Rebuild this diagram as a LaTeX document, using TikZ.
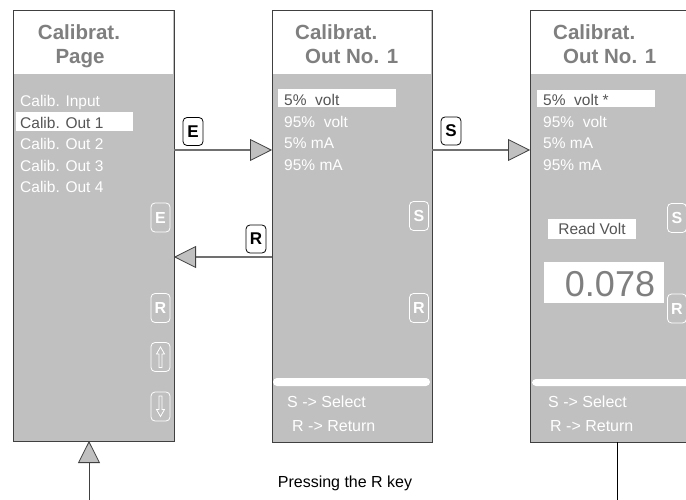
\documentclass[tikz,border=0pt]{standalone}
\usepackage{fontspec}
\setmainfont{Liberation Sans}
\usetikzlibrary{arrows.meta}
\definecolor{pgray}{HTML}{C0C0C0}
\definecolor{hgray}{HTML}{7F7F7F}
\definecolor{bord}{HTML}{404040}
\definecolor{lgray}{HTML}{707070}
\definecolor{dtext}{HTML}{555555}
\begin{document}
\begin{tikzpicture}[x=1pt,y=-1pt,
  panel/.style={draw=bord, line width=0.9pt, fill=pgray, inner sep=0pt, outer sep=0pt},
  htext/.style={inner sep=0pt, text=hgray, font=\fontsize{20.5}{24}\selectfont\bfseries},
  mtext/.style={inner sep=0pt, anchor=base west, text=white, font=\fontsize{15.5}{18}\selectfont},
  hlbox/.style={fill=white, inner sep=0pt},
  keybox/.style={draw=white, line width=0.8pt, rounded corners=4pt, minimum width=19pt, minimum height=29pt, inner sep=0pt, text=white, font=\fontsize{16}{18}\selectfont\bfseries},
  extkey/.style={draw=black, fill=white, line width=0.8pt, rounded corners=4pt, minimum width=20pt, minimum height=28pt, inner sep=0pt, text=black, font=\fontsize{17}{19}\selectfont\bfseries},
  conn/.style={draw=lgray, line width=1.2pt, -{Triangle[length=22pt,width=22pt,fill=pgray,color=bord,line width=0.8pt]}},
  arrowglyph/.style={draw=white, line width=0.8pt, line join=miter}
]
\useasboundingbox (0,0) rectangle (686,500);

% ---------- panels ----------
\node[panel, minimum width=161pt, minimum height=431pt] (p1) at (93.5,225.5) {};
\node[panel, minimum width=160pt, minimum height=432pt] (p2) at (352,226) {};
\node[panel, minimum width=160pt, minimum height=432pt] (p3) at (610,226) {};

\foreach \p in {p1,p2,p3}{
  \fill[white] ([xshift=0.6pt,yshift=-0.6pt]\p.north west) rectangle ([xshift=-0.6pt,yshift=-64pt]\p.north east);
}

% ---------- headers ----------
\node[htext, anchor=base] (h1a) at (79,40) {Calibrat.};
\node[htext, anchor=base] (h1b) at (80,64) {Page};
\node[htext, anchor=base west] (h2a) at (295,40) {Calibrat.};
\node[htext, anchor=base west] (h2b) at (305,64) {Out No. 1};
\node[htext, anchor=base west] (h3a) at (553,40) {Calibrat.};
\node[htext, anchor=base west] (h3b) at (563,64) {Out No. 1};

% ---------- panel 1 menu ----------
\fill[white] (16,112) rectangle (133,131);
\node[mtext] (m1) at (20,107) {Calib. Input};
\node[mtext, text=dtext] (m2) at (20,128.5) {Calib. Out 1};
\node[mtext] (m3) at (20,150) {Calib. Out 2};
\node[mtext] (m4) at (20,171.5) {Calib. Out 3};
\node[mtext] (m5) at (20,193) {Calib. Out 4};

\node[keybox] (k1e) at (160.5,217.5) {E};
\node[keybox] (k1r) at (160.5,308) {R};
\node[keybox] (k1u) at (160.5,357) {};
\node[keybox] (k1d) at (160.5,406.5) {};
\draw[arrowglyph] (160.5,347) -- (164.5,354) -- (162,354) -- (162,367.5) -- (159,367.5) -- (159,354) -- (156.5,354) -- cycle;
\draw[arrowglyph] (160.5,416.5) -- (164.5,409.5) -- (162,409.5) -- (162,396) -- (159,396) -- (159,409.5) -- (156.5,409.5) -- cycle;

% ---------- panel 2 menu ----------
\fill[white] (278,89) rectangle (396,107);
\node[mtext, text=dtext] (n1) at (284,106) {5\%\ \ volt};
\node[mtext] (n2) at (284,127.5) {95\%\ \ volt};
\node[mtext] (n3) at (284,149) {5\% mA};
\node[mtext] (n4) at (284,170.5) {95\% mA};

\node[keybox] (k2s) at (419,216) {S};
\node[keybox] (k2r) at (419,308) {R};

\fill[white, rounded corners=4pt] (273,378) rectangle (430,386);
\node[mtext, font=\fontsize{16}{18}\selectfont] (s2) at (287,407) {S -> Select};
\node[mtext, font=\fontsize{16}{18}\selectfont] (r2) at (292,431) {R -> Return};

% ---------- panel 3 menu ----------
\fill[white] (537,90) rectangle (655,107);
\node[mtext, text=dtext] (q1) at (543,106) {5\%\ \ volt *};
\node[mtext] (q2) at (543,127.5) {95\%\ \ volt};
\node[mtext] (q3) at (543,149) {5\% mA};
\node[mtext] (q4) at (543,170.5) {95\% mA};

\node[keybox] (k3s) at (677,218) {S};
\node[keybox] (k3r) at (677,308.5) {R};

\node[hlbox, minimum width=88pt, minimum height=20pt, text=dtext, font=\fontsize{15.5}{18}\selectfont] (rv) at (592,229) {Read Volt};
\node[hlbox, minimum width=120pt, minimum height=41pt] (vb) at (604,282.5) {};
\node[inner sep=0pt, anchor=base, text=hgray, font=\fontsize{36}{40}\selectfont] (val) at (610,296) {0.078};

\fill[white, rounded corners=4pt] (532,379) rectangle (692,386);
\node[mtext, font=\fontsize{16}{18}\selectfont] (s3) at (548,407) {S -> Select};
\node[mtext, font=\fontsize{16}{18}\selectfont] (r3) at (550,431) {R -> Return};

% ---------- connectors ----------
\draw[conn] (p1.east |- 0,150) -- (p2.west |- 0,150);
\node[extkey] (ke) at (193,131.5) {E};
\draw[conn] (p2.east |- 0,150) -- (p3.west |- 0,150);
\node[extkey] (ks) at (451,131) {S};
\draw[conn] (p2.west |- 0,257) -- (p1.east |- 0,257);
\node[extkey] (kr) at (256,239) {R};

\coordinate (b3) at (617,500);
\coordinate (b1) at (89,500);
\draw[black, line width=1pt] (p3.south -| b3) -- (b3);
\draw[conn, draw=bord, line width=1pt] (b1) -- (p1.south -| b1);
\node[inner sep=0pt, text=black, font=\fontsize{16}{18}\selectfont] (press) at (345,483) {Pressing the R key};
\end{tikzpicture}
\end{document}
